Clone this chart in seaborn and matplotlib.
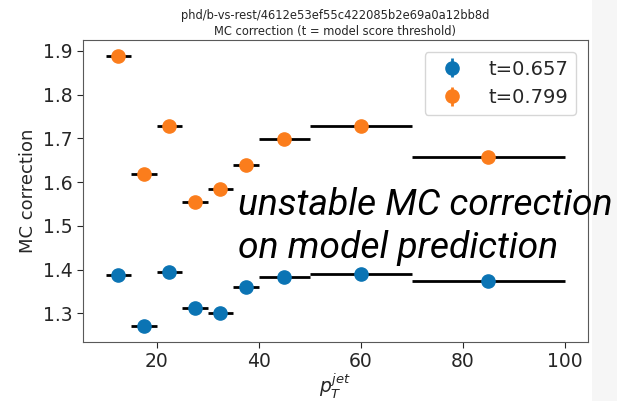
import numpy as np
import pandas as pd
import matplotlib
matplotlib.use("Agg")
import matplotlib.pyplot as plt
from matplotlib import font_manager as fm
from matplotlib.patches import Rectangle
import seaborn as sns

# ---- data ----
bin_edges = [10, 15, 20, 25, 30, 35, 40, 50, 70, 100]
bin_centers = [12.5, 17.5, 22.5, 27.5, 32.5, 37.5, 45, 60, 85]
corr_t0657 = [1.388, 1.271, 1.395, 1.313, 1.302, 1.360, 1.384, 1.390, 1.374]
corr_t0799 = [1.889, 1.619, 1.728, 1.555, 1.584, 1.638, 1.698, 1.728, 1.658]
err_t0657 = [0.004] * 9
err_t0799 = [0.004] * 9
labels = ["t=0.657", "t=0.799"]
colors = ["#0b74b4", "#fb7d1c"]

sns.set_style("ticks")
plt.rcParams["font.family"] = ["DejaVu Sans"]

# pick a regular-width Roboto italic face
cands = [f for f in fm.fontManager.ttflist
         if f.name == "Roboto" and f.style == "italic"]
def score(f):
    s = 0
    if "ondensed" in f.fname: s += 100
    s += abs((f.weight if isinstance(f.weight, int) else 400) - 350) / 10
    return s
cands.sort(key=score)
note_font = fm.FontProperties(fname=cands[0].fname) if cands else fm.FontProperties(family="Roboto", style="italic")
note_font.set_size(22)

fig = plt.figure(figsize=(6.17, 4.01), dpi=100)
fig.patch.set_facecolor("white")
fig.patches.append(Rectangle((592 / 617, 0), 1 - 592 / 617, 1, transform=fig.transFigure,
                             facecolor="#f6f6f6", edgecolor="none", zorder=-5))
ax = fig.add_axes([0.134, 0.148, 0.819, 0.752])

lo = bin_edges[:-1]
hi = bin_edges[1:]
for vals, err, lab, col in zip([corr_t0657, corr_t0799], [err_t0657, err_t0799], labels, colors):
    ax.hlines(vals, lo, hi, colors="black", linewidth=2, zorder=2)
    ax.errorbar(bin_centers, vals, yerr=err, fmt="o", color=col, ecolor=col,
                markersize=9.5, elinewidth=2, label=lab, zorder=3)

ax.set_xticks([20, 40, 60, 80, 100])
ax.set_yticks([1.3, 1.4, 1.5, 1.6, 1.7, 1.8, 1.9])
ax.tick_params(labelsize=13.5, colors="0.15", length=4)
ax.set_ylabel("MC correction", fontsize=13)
ax.set_xlabel(r"$p_T^{jet}$", fontsize=13.5, labelpad=0)
ax.set_title("phd/b-vs-rest/4612e53ef55c422085b2e69a0a12bb8d\nMC correction (t = model score threshold)",
             fontsize=8.3, pad=4, linespacing=1.3)
for s in ax.spines.values():
    s.set_color("0.35")
ax.legend(loc="upper right", fontsize=14, handletextpad=0.9, borderaxespad=0.6)

t1 = fig.text(238 / 617, 1 - 215 / 401, "unstable MC correction", fontproperties=note_font,
              va="baseline", ha="left", color="black")
t2 = fig.text(238 / 617, 1 - 258 / 401, "on model prediction", fontproperties=note_font,
              va="baseline", ha="left", color="black")

# scale note text so the first line spans the reference width (~374 px)
fig.canvas.draw()
w = t1.get_window_extent().width
if w > 0:
    new = 22 * 374 / w
    new = min(max(new, 18), 30)
    for t in (t1, t2):
        t.set_fontsize(new)

fig.savefig("out.png", dpi=100, facecolor=fig.get_facecolor())
